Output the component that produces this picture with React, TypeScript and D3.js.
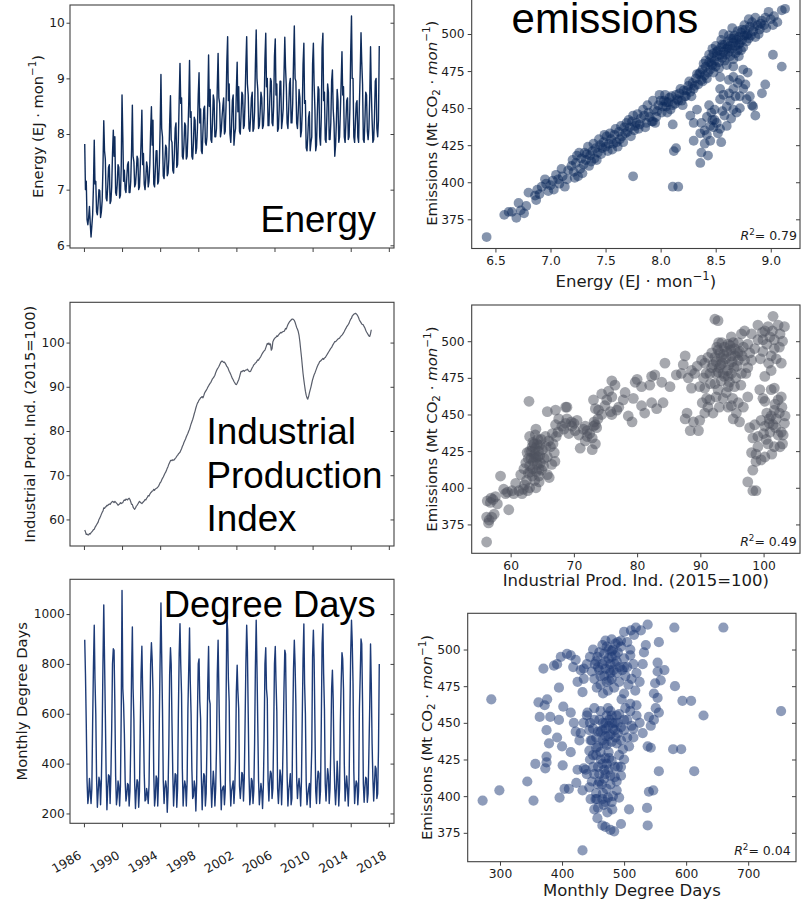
import { useRef, useEffect } from "react";
import * as d3 from "d3";

// monthly series, first value is Jan 1986 (plotted at month end)
const firstYear = 1986;

// EJ per month, Jan 1986 - Dec 2016
const energy = [
  7.82, 7.0, 7.15, 6.46, 6.37, 6.5, 6.7, 6.39, 6.15, 6.35, 6.55, 7.05,
  7.89, 7.1, 7.15, 6.6, 6.55, 6.75, 7.0, 6.98, 6.5, 6.6, 6.8, 7.4,
  8.24, 7.7, 7.55, 6.85, 6.8, 7.05, 7.4, 7.45, 6.75, 6.8, 7.05, 7.65,
  8.07, 7.6, 7.95, 6.95, 6.9, 7.1, 7.45, 7.4, 6.85, 6.9, 7.4, 8.7,
  7.95, 7.15, 7.35, 7.0, 6.95, 7.2, 7.45, 7.5, 6.95, 6.95, 7.15, 7.7,
  8.52, 7.6, 7.5, 7.05, 7.1, 7.3, 7.6, 7.55, 7.0, 7.05, 7.4, 7.85,
  8.43, 7.45, 7.65, 7.1, 7.0, 7.2, 7.5, 7.4, 7.05, 7.15, 7.45, 8.05,
  8.49, 7.8, 8.25, 7.1, 7.05, 7.35, 7.7, 7.7, 7.1, 7.15, 7.45, 8.1,
  9.07, 8.1, 7.95, 7.25, 7.2, 7.5, 7.8, 7.75, 7.25, 7.3, 7.55, 8.2,
  8.69, 7.9, 7.85, 7.35, 7.3, 7.65, 8.1, 8.2, 7.4, 7.45, 7.9, 8.6,
  9.27, 8.55, 8.65, 7.6, 7.55, 7.8, 8.2, 8.15, 7.55, 7.6, 8.0, 8.55,
  9.32, 8.3, 8.4, 7.6, 7.55, 7.85, 8.3, 8.25, 7.65, 7.75, 8.1, 8.7,
  9.1, 8.2, 8.45, 7.7, 7.65, 8.05, 8.45, 8.5, 7.85, 7.8, 7.95, 8.55,
  9.42, 8.5, 8.8, 7.9, 7.85, 8.2, 8.7, 8.6, 7.95, 7.95, 8.1, 8.85,
  9.45, 8.65, 8.55, 7.95, 8.05, 8.3, 8.5, 8.65, 8.0, 8.05, 8.5, 9.3,
  9.75, 8.6, 8.9, 8.0, 7.85, 8.15, 8.6, 8.7, 7.8, 8.0, 8.1, 8.8,
  9.29, 8.4, 8.85, 8.05, 8.0, 8.35, 8.75, 8.7, 8.1, 8.15, 8.6, 9.25,
  9.75, 8.9, 8.7, 8.1, 8.05, 8.3, 8.65, 8.75, 8.05, 8.1, 8.4, 9.25,
  9.87, 9.0, 8.8, 8.1, 8.15, 8.4, 8.75, 8.65, 8.1, 8.15, 8.45, 9.35,
  9.81, 8.85, 9.0, 8.15, 8.15, 8.55, 9.0, 8.95, 8.2, 8.15, 8.5, 9.4,
  9.71, 8.7, 8.9, 8.05, 8.1, 8.45, 8.95, 8.95, 8.1, 8.25, 8.45, 9.05,
  9.74, 9.2, 8.85, 8.2, 8.1, 8.45, 8.9, 9.0, 8.2, 8.2, 8.55, 9.3,
  9.94, 9.0, 8.95, 8.2, 8.1, 8.4, 8.8, 8.65, 7.95, 8.05, 8.4, 9.25,
  9.63, 8.55, 8.6, 7.75, 7.7, 7.95, 8.3, 8.4, 7.7, 7.85, 7.95, 9.25,
  9.63, 8.9, 8.45, 7.7, 7.8, 8.35, 8.85, 8.8, 7.95, 7.8, 8.3, 9.55,
  9.81, 8.6, 8.75, 7.9, 7.85, 8.3, 8.9, 8.75, 7.9, 7.9, 8.2, 8.95,
  9.15, 8.45, 8.2, 7.6, 7.8, 8.2, 8.8, 8.6, 7.85, 7.95, 8.4, 8.95,
  9.48, 8.7, 8.85, 7.95, 7.85, 8.2, 8.6, 8.65, 7.9, 7.95, 8.45, 9.45,
  10.12, 9.0, 9.0, 7.95, 7.85, 8.2, 8.55, 8.6, 7.95, 7.85, 8.55, 9.1,
  9.82, 9.3, 8.9, 7.9, 7.85, 8.25, 8.75, 8.7, 8.05, 7.9, 8.1, 8.65,
  9.57, 8.8, 8.25, 7.85, 7.9, 8.3, 8.95, 9.0, 8.1, 7.95, 8.25, 9.58,
];

// industrial production index (2015=100), Jan 1986 - Feb 2016
const industrialProduction = [
  57.6, 57.2, 56.6, 56.7, 56.5, 56.5, 56.8, 56.7, 57.0, 57.2, 57.4, 57.7,
  57.8, 58.2, 58.5, 58.8, 59.1, 59.4, 60.0, 60.3, 60.7, 61.2, 61.6, 61.9,
  62.6, 62.5, 62.8, 62.9, 63.2, 63.1, 63.4, 63.5, 63.4, 63.7, 63.9, 64.1,
  64.0, 63.8, 64.1, 63.9, 63.7, 63.5, 63.2, 63.4, 63.5, 63.8, 63.6, 63.7,
  63.8, 64.2, 64.4, 64.3, 64.6, 64.5, 64.4, 64.7, 64.8, 64.5, 64.0, 63.4,
  63.4, 62.8, 62.5, 62.3, 62.6, 63.0, 63.2, 63.5, 63.8, 64.1, 63.9, 63.7,
  63.6, 63.8, 64.0, 64.2, 64.5, 64.4, 64.8, 65.0, 65.4, 65.3, 65.7, 66.0,
  66.2, 66.4, 66.5, 66.8, 66.6, 66.9, 67.0, 67.1, 67.3, 67.5, 67.9, 68.3,
  68.5, 68.9, 69.3, 69.6, 70.0, 70.4, 70.7, 71.1, 71.6, 72.0, 72.5, 72.9,
  73.3, 73.4, 73.3, 73.5, 73.4, 73.5, 73.8, 74.0, 74.3, 74.5, 74.8, 75.0,
  75.2, 75.6, 76.0, 76.5, 76.9, 77.4, 77.8, 78.2, 78.7, 79.1, 79.5, 80.0,
  80.4, 81.0, 81.6, 82.1, 82.6, 83.2, 83.9, 84.5, 85.2, 85.8, 86.3, 86.6,
  87.0, 87.2, 87.5, 87.6, 87.8, 87.5, 88.0, 88.6, 88.9, 89.2, 89.5, 89.9,
  90.2, 90.5, 90.8, 91.0, 91.4, 91.8, 92.0, 92.3, 92.6, 93.2, 93.6, 94.0,
  94.3, 94.6, 95.0, 95.4, 95.7, 95.8, 95.7, 95.5, 95.6, 95.3, 95.0, 94.6,
  94.4, 94.0, 93.5, 93.2, 92.8, 92.3, 91.9, 91.6, 91.2, 90.9, 90.6, 90.5,
  90.8, 91.2, 91.6, 92.2, 92.9, 93.5, 93.4, 93.6, 93.7, 93.5, 93.7, 93.8,
  93.8, 94.0, 93.7, 93.5, 93.4, 93.5, 93.9, 94.3, 94.6, 95.0, 95.1, 95.4,
  95.5, 95.8, 96.1, 96.0, 96.4, 96.6, 96.9, 97.3, 97.6, 97.9, 98.1, 98.3,
  98.8, 99.3, 99.8, 99.6, 99.9, 99.5, 99.7, 98.3, 98.6, 100.2, 100.6, 100.9,
  101.1, 101.2, 101.5, 101.4, 101.7, 101.9, 102.1, 102.3, 102.2, 102.4, 102.5, 102.5,
  102.8, 103.2, 103.1, 103.6, 104.1, 104.4, 104.7, 104.9, 105.1, 105.3, 105.3, 105.2,
  105.0, 104.6, 104.0, 103.4, 103.0, 102.5, 101.6, 100.2, 98.5, 96.8, 94.9, 93.0,
  91.5, 90.3, 89.0, 88.1, 87.5, 87.2, 87.8, 88.6, 89.3, 90.0, 90.8, 91.6,
  92.2, 92.7, 93.1, 93.6, 94.1, 94.6, 95.0, 95.3, 95.7, 95.8, 96.0, 96.2,
  96.4, 96.2, 96.5, 96.6, 96.9, 97.2, 97.5, 97.8, 98.1, 98.4, 98.7, 98.9,
  99.3, 99.6, 99.9, 100.2, 100.2, 100.4, 100.6, 100.8, 100.9, 101.0, 101.3, 101.5,
  101.7, 101.9, 102.2, 102.5, 102.9, 103.2, 103.6, 103.8, 104.1, 104.4, 104.9, 105.3,
  105.5, 106.0, 106.2, 106.4, 106.5, 106.6, 106.5, 106.3, 106.0, 105.6, 105.1, 104.8,
  104.5, 104.2, 104.1, 104.0, 103.6, 103.3, 102.8, 102.4, 102.1, 101.8, 101.5, 101.4,
  102.0, 102.9,
];

// monthly degree days, Jan 1986 - Dec 2016
const degreeDays = [
  897, 760, 560, 330, 240, 270, 340, 290, 240, 300, 560, 790,
  955, 740, 600, 340, 225, 285, 345, 330, 235, 330, 520, 800,
  1037, 820, 600, 360, 215, 300, 355, 350, 240, 360, 540, 800,
  861, 855, 640, 350, 235, 265, 330, 310, 230, 310, 600, 1095,
  700, 640, 520, 330, 250, 275, 320, 315, 230, 290, 480, 760,
  948, 700, 580, 320, 220, 290, 335, 325, 225, 290, 540, 760,
  871, 700, 560, 360, 250, 255, 300, 280, 240, 315, 560, 800,
  885, 820, 700, 360, 230, 265, 350, 340, 230, 330, 580, 820,
  1045, 840, 620, 330, 240, 300, 330, 305, 205, 290, 480, 760,
  865, 800, 560, 360, 230, 300, 360, 355, 225, 300, 600, 840,
  961, 800, 680, 380, 230, 295, 330, 310, 230, 330, 620, 780,
  944, 730, 600, 380, 260, 270, 330, 305, 210, 320, 600, 800,
  820, 650, 580, 340, 215, 305, 360, 350, 230, 280, 480, 720,
  870, 660, 640, 320, 225, 300, 370, 320, 230, 300, 460, 760,
  895, 700, 500, 340, 215, 290, 305, 310, 235, 290, 620, 990,
  940, 740, 650, 330, 230, 290, 310, 330, 240, 300, 420, 690,
  795, 690, 620, 310, 260, 305, 365, 355, 250, 340, 560, 800,
  955, 850, 600, 350, 235, 270, 340, 330, 240, 290, 480, 790,
  975, 790, 560, 330, 235, 280, 320, 290, 220, 310, 500, 800,
  865, 700, 660, 330, 250, 330, 370, 360, 260, 300, 520, 800,
  870, 730, 610, 300, 240, 300, 375, 350, 235, 330, 500, 700,
  855, 840, 600, 350, 230, 290, 320, 360, 235, 260, 540, 780,
  895, 800, 640, 340, 260, 310, 340, 300, 230, 330, 580, 820,
  960, 720, 600, 330, 235, 270, 300, 320, 225, 340, 460, 830,
  935, 820, 560, 290, 240, 330, 370, 360, 240, 290, 560, 880,
  960, 760, 620, 320, 250, 320, 380, 350, 240, 300, 470, 700,
  775, 660, 420, 300, 235, 300, 410, 340, 230, 300, 560, 720,
  845, 820, 700, 400, 250, 300, 350, 300, 230, 320, 590, 840,
  975, 890, 720, 370, 240, 300, 330, 320, 235, 290, 620, 750,
  900, 880, 650, 320, 245, 305, 345, 340, 245, 280, 450, 630,
  880, 720, 480, 340, 250, 320, 390, 380, 260, 280, 450, 800,
];

// [energy EJ/mon, emissions Mt CO2/mon]
const energyVsEmissions: [number, number][] = [
  [6.42, 363], [6.58, 378], [6.65, 380], [6.69, 376], [6.71, 386], [6.73, 381], [6.76, 379], [6.8, 393],
  [6.86, 391], [6.88, 395], [6.87, 388], [6.92, 397], [6.96, 399], [6.98, 394], [7.0, 398], [7.02, 401],
  [7.05, 405], [7.08, 399], [7.11, 404], [7.13, 397], [7.16, 408], [7.19, 411], [7.21, 407], [7.23, 413],
  [7.24, 418], [7.25, 404], [7.27, 409], [7.28, 416], [7.3, 412], [7.32, 415], [7.33, 419], [7.35, 411],
  [7.36, 418], [7.38, 421], [7.4, 416], [7.41, 423], [7.43, 420], [7.45, 425], [7.46, 419], [7.48, 427],
  [7.5, 424], [7.51, 431], [7.53, 426], [7.55, 429], [7.56, 422], [7.58, 432], [7.6, 427], [7.62, 434],
  [7.63, 429], [7.65, 431], [7.67, 437], [7.69, 440], [7.7, 434], [7.72, 437], [7.74, 441], [7.76, 435],
  [7.78, 440], [7.8, 436], [7.82, 443], [7.85, 445], [7.87, 440], [7.89, 447], [7.92, 441], [7.94, 449],
  [7.96, 444], [7.98, 452], [7.99, 459], [8.01, 447], [8.03, 455], [8.05, 451], [8.07, 454], [8.09, 449],
  [8.1, 458], [8.13, 453], [8.15, 456], [8.17, 460], [8.19, 455], [8.21, 462], [8.23, 458], [8.25, 465],
  [8.27, 461], [8.29, 467], [8.3, 463], [8.32, 470], [8.34, 466], [8.35, 473], [8.37, 469], [8.38, 476],
  [8.4, 472], [8.41, 478], [8.43, 474], [8.44, 481], [8.45, 476], [8.46, 484], [8.47, 479], [8.48, 487],
  [8.49, 482], [8.5, 478], [8.51, 485], [8.52, 489], [8.53, 481], [8.54, 486], [8.55, 491], [8.56, 484],
  [8.57, 488], [8.58, 493], [8.59, 486], [8.6, 490], [8.61, 495], [8.62, 488], [8.63, 492], [8.64, 497],
  [8.65, 490], [8.66, 494], [8.67, 499], [8.68, 492], [8.69, 496], [8.7, 489], [8.71, 498], [8.72, 494],
  [8.73, 501], [8.74, 496], [8.75, 491], [8.76, 499], [8.77, 503], [8.78, 495], [8.79, 500], [8.8, 497],
  [8.81, 505], [8.82, 499], [8.84, 502], [8.86, 498], [8.88, 506], [8.9, 503], [8.92, 509], [8.94, 506],
  [8.96, 504], [8.98, 515], [9.0, 510], [9.03, 512], [9.06, 508], [9.1, 516], [9.13, 517],
  [8.42, 470], [8.48, 474], [8.53, 477], [8.58, 482], [8.63, 485], [8.68, 487], [8.73, 489], [8.5, 492],
  [8.55, 496], [8.62, 499], [8.7, 502], [8.76, 506], [8.83, 508], [8.6, 479], [8.66, 483], [8.71, 485],
  [8.36, 474], [8.39, 480], [8.44, 486], [8.47, 490], [8.57, 500], [8.65, 504], [8.8, 510], [8.86, 511],
  [6.62, 380], [6.78, 384], [6.9, 392], [6.95, 402], [7.03, 395], [7.07, 402], [7.1, 409], [7.15, 402],
  [7.2, 415], [7.22, 403], [7.26, 420], [7.29, 406], [7.31, 420], [7.34, 424], [7.37, 414], [7.39, 426],
  [7.42, 415], [7.44, 429], [7.47, 423], [7.49, 432], [7.52, 421], [7.54, 433], [7.57, 426], [7.59, 436],
  [7.61, 424], [7.64, 438], [7.66, 427], [7.68, 433], [7.71, 442], [7.73, 431], [7.75, 445], [7.77, 438],
  [7.79, 446], [7.81, 439], [7.84, 449], [7.86, 437], [7.88, 452], [7.9, 444], [7.93, 455], [7.95, 440],
  [7.97, 448], [8.0, 455], [8.02, 451], [8.04, 459], [8.06, 447], [8.08, 457], [8.11, 452], [8.14, 459],
  [8.18, 463], [8.2, 452], [8.24, 462], [8.26, 468], [8.28, 458], [8.31, 465], [8.33, 473], [8.38, 468],
  [8.41, 482], [8.46, 480], [8.51, 488], [8.56, 493], [8.61, 491], [8.66, 497], [8.71, 493], [8.74, 503],
  [8.78, 499], [8.85, 505], [8.89, 500], [8.91, 507], [8.95, 511], [9.02, 506],
  [7.75, 404], [8.12, 421], [8.14, 423], [8.11, 397], [8.16, 397], [8.11, 439], [8.36, 413], [8.37, 420],
  [8.43, 418], [8.4, 426], [8.45, 428], [8.36, 433], [8.37, 440], [8.42, 444], [8.46, 447], [8.49, 442],
  [8.54, 436], [8.55, 427], [8.49, 449], [8.54, 456], [8.6, 451], [8.66, 449], [8.69, 447], [8.72, 450],
  [8.78, 456], [8.81, 458], [8.84, 451], [8.86, 445], [8.92, 460], [8.95, 466], [9.02, 486], [9.1, 478],
  [8.54, 463], [8.62, 469], [8.66, 463], [8.72, 469], [8.75, 476], [8.79, 474], [8.62, 460], [8.72, 458],
  [8.75, 463], [8.66, 478], [8.66, 471], [8.54, 471], [8.42, 432], [8.3, 440], [8.3, 428], [8.33, 449],
  [8.27, 445], [8.22, 458], [8.16, 455], [8.05, 454], [7.93, 441], [8.45, 438], [8.47, 442], [8.51, 440],
  [8.44, 452], [8.58, 445], [8.63, 455], [8.68, 458], [8.7, 467], [8.77, 466], [8.83, 452], [8.48, 437],
  [8.52, 433], [8.4, 435], [8.56, 448], [8.6, 438], [8.64, 443], [8.57, 459],
];

// [industrial production index, emissions]
const ipiVsEmissions: [number, number][] = [
  [56.2, 363], [56.2, 380], [56.5, 376], [56.6, 378], [56.3, 391], [56.9, 393], [57.6, 394], [57.4, 382],
  [57.9, 389], [58.4, 408], [58.9, 399], [59.2, 396], [59.7, 385], [60.5, 396], [60.8, 403], [61.3, 398],
  [61.6, 409], [62.1, 413], [62.4, 417], [62.6, 424], [63.0, 435], [62.9, 459], [63.4, 428], [63.7, 421],
  [63.1, 411], [64.0, 440], [64.2, 430], [64.5, 408], [64.7, 417], [65.0, 426], [64.0, 400], [64.5, 404],
  [65.5, 435], [65.8, 421], [65.8, 452], [65.8, 409], [66.6, 437], [67.1, 443], [67.1, 453], [67.6, 447],
  [68.7, 455], [68.1, 442], [68.7, 444], [68.9, 447], [68.9, 455], [69.7, 442], [69.6, 445],
  [62.5, 405], [62.8, 410], [63.0, 415], [63.2, 420], [63.4, 408], [63.5, 413], [63.6, 418], [63.8, 423],
  [63.9, 427], [64.1, 411], [64.2, 416], [64.3, 421], [64.4, 425], [64.6, 429], [63.3, 425], [63.7, 430],
  [64.8, 433], [62.7, 398], [63.0, 400], [62.2, 402], [61.8, 396], [64.9, 412], [65.3, 420], [65.6, 428],
  [66.0, 432], [66.3, 428], [66.7, 430], [66.9, 424], [67.2, 435], [67.5, 438], [66.5, 416], [67.0, 418],
  [62.0, 399], [60.2, 398], [59.5, 397], [57.0, 380], [57.2, 392], [56.8, 390], [66.1, 407], [68.4, 440],
  [63.0, 425], [63.5, 431], [64.0, 420], [64.5, 413], [63.8, 405], [64.3, 433], [62.8, 420], [63.9, 436],
  [64.6, 422], [65.2, 415],
  [69.2, 437], [70.0, 444], [70.2, 439], [70.8, 436], [71.0, 427], [71.8, 432], [72.9, 434], [71.8, 442],
  [72.1, 435], [73.4, 430], [72.1, 439], [72.9, 426], [73.1, 442], [73.4, 443], [73.6, 441], [73.2, 445],
  [73.1, 460], [73.4, 454], [74.4, 464], [73.9, 453], [74.4, 450], [76.0, 473], [75.2, 460], [76.0, 462],
  [76.0, 450], [75.8, 452], [76.8, 453], [76.5, 470], [78.1, 465], [77.8, 460], [78.6, 449], [79.2, 445],
  [77.1, 455], [79.4, 461], [79.7, 472], [80.7, 469], [80.7, 456], [81.2, 451], [82.0, 470], [82.3, 476],
  [82.3, 458], [83.1, 454], [83.9, 472], [84.1, 458], [85.2, 469], [86.2, 477], [70.5, 446], [71.5, 440],
  [74.9, 456], [75.5, 466], [73.8, 447], [72.5, 437], [80.0, 474],
  [82.8, 477], [84.4, 485], [87.0, 478], [87.3, 484], [87.6, 490], [88.1, 475], [88.6, 480], [88.6, 468],
  [89.1, 478], [89.9, 469], [90.7, 468], [91.0, 461], [92.3, 471], [92.8, 479], [93.3, 473], [92.8, 467],
  [93.6, 461], [94.4, 469], [93.6, 478], [94.4, 476], [94.9, 478], [95.4, 469], [96.0, 458], [94.9, 456],
  [94.4, 455], [92.3, 489], [92.8, 494], [93.3, 489], [93.8, 496], [94.4, 498], [94.9, 503], [95.4, 495],
  [96.0, 499], [96.5, 505], [94.9, 490], [96.2, 493], [97.0, 487], [97.5, 482], [91.8, 482], [90.7, 485],
  [90.2, 487], [91.2, 489], [92.3, 515], [92.8, 514], [97.0, 507], [98.1, 505], [97.5, 498], [98.6, 495],
  [99.1, 501], [99.9, 501], [100.2, 507], [100.7, 510], [102.3, 511], [103.3, 510], [101.5, 517], [99.1, 511],
  [101.0, 503], [101.7, 501], [101.7, 495], [101.2, 490], [102.0, 488], [101.2, 480], [100.2, 476], [99.9, 493],
  [98.1, 487], [91.5, 478], [92.0, 484], [92.5, 486], [93.0, 482], [93.5, 485], [94.0, 488], [94.5, 484],
  [95.0, 486], [95.5, 490], [96.0, 487], [91.8, 492], [92.6, 496], [93.4, 499], [94.2, 493], [95.2, 499],
  [95.8, 483], [96.5, 478], [93.8, 476], [94.6, 472], [95.6, 475], [90.5, 475], [89.5, 483], [93.1, 492],
  [94.8, 494], [96.8, 496], [97.8, 492], [100.5, 498], [102.5, 496], [103.0, 500], [102.8, 485], [99.5, 488],
  [100.8, 485], [92.5, 478], [93.2, 484], [94.3, 480], [95.3, 482], [95.9, 492], [96.6, 490], [93.7, 491],
  [94.7, 497], [92.9, 499], [97.2, 478], [91.6, 471], [90.9, 478], [94.1, 465], [95.1, 461], [96.4, 470],
  [99.8, 506], [101.4, 507], [102.6, 505],
  [87.9, 451], [87.6, 447], [88.4, 439], [88.9, 445], [89.9, 446], [90.7, 451], [91.2, 455], [91.5, 460],
  [89.7, 439], [92.0, 451], [95.2, 447], [95.7, 451], [96.2, 445], [90.3, 458], [92.5, 462], [93.0, 455],
  [96.8, 455], [97.5, 462],
  [99.4, 467], [100.2, 459], [101.2, 467], [102.3, 460], [101.7, 468], [100.5, 451], [101.2, 449], [101.7, 453],
  [102.5, 451], [103.3, 444], [102.8, 438], [100.9, 444], [100.2, 442], [99.6, 446], [99.1, 435], [98.3, 434],
  [98.1, 424], [98.8, 423], [100.2, 421], [100.7, 430], [101.7, 428], [102.3, 436], [97.5, 404], [98.3, 398],
  [98.8, 398], [98.3, 412], [98.8, 418], [99.6, 419], [99.1, 428], [102.8, 462], [103.1, 436], [101.0, 438],
  [101.5, 443], [102.0, 447], [100.0, 437], [101.8, 457], [103.4, 449], [102.6, 428], [97.8, 441], [98.6, 443],
  [100.9, 447], [101.9, 441], [102.9, 455], [100.4, 433], [101.3, 423], [103.0, 430], [99.9, 461],
];

// [monthly degree days, emissions]
const degreeDaysVsEmissions: [number, number][] = [
  [272, 397], [286, 466], [299, 404], [344, 410], [354, 397], [357, 422], [362, 464], [364, 454],
  [370, 487], [372, 462], [376, 466], [375, 445], [375, 427], [375, 423], [373, 419], [379, 436],
  [381, 454], [387, 489], [392, 490], [395, 474], [396, 399], [392, 440], [395, 452], [402, 461],
  [401, 421], [404, 405], [400, 434], [398, 495], [408, 497], [414, 496], [418, 488], [422, 493],
  [414, 457], [419, 450], [422, 444], [414, 430], [425, 418], [423, 409], [411, 405], [433, 404],
  [433, 363], [435, 487], [435, 480], [433, 471], [435, 419], [438, 418], [441, 457], [444, 445],
  [446, 438], [444, 431], [446, 398], [452, 391], [454, 398], [457, 385], [465, 380], [470, 379],
  [478, 377], [484, 376], [495, 381], [467, 394], [481, 391], [473, 389], [492, 399], [508, 391],
  [537, 392], [538, 380], [540, 403], [547, 404], [556, 417], [579, 432], [592, 432], [613, 417],
  [628, 455], [608, 465], [594, 465], [582, 475], [581, 515], [660, 515], [753, 458], [554, 485],
  [556, 505], [554, 491], [565, 486], [550, 477], [559, 479], [554, 467], [548, 470], [556, 457],
  [551, 460], [540, 454], [543, 448], [538, 434], [543, 433], [548, 452], [532, 498], [535, 503],
  [538, 517], [527, 513], [519, 515], [516, 510], [511, 513], [500, 512], [495, 506],
  [445, 495], [450, 500], [455, 492], [460, 498], [465, 503], [470, 506], [475, 500], [480, 495],
  [485, 490], [490, 498], [495, 502], [500, 494], [505, 488], [510, 496], [515, 490], [520, 484],
  [448, 485], [452, 480], [458, 488], [462, 476], [468, 482], [472, 478], [476, 486], [480, 480],
  [484, 474], [488, 484], [492, 478], [497, 486], [502, 482], [507, 476], [512, 480], [518, 472],
  [466, 470], [474, 472], [470, 492], [478, 490], [482, 500], [486, 504], [460, 486], [456, 474],
  [500, 470], [525, 478], [530, 490], [505, 505], [440, 490], [430, 486], [425, 478],
  [465, 490], [470, 487], [475, 494], [480, 499], [468, 497], [472, 502], [478, 484], [462, 482],
  [483, 486], [488, 492], [493, 488], [457, 495], [476, 479], [486, 496], [500, 488], [510, 500],
  [453, 490], [490, 505], [480, 507],
  [440, 455], [445, 450], [450, 446], [455, 440], [460, 452], [465, 445], [470, 441], [475, 448],
  [480, 455], [485, 450], [490, 443], [495, 447], [500, 452], [505, 440], [510, 458], [515, 446],
  [520, 455], [525, 450], [448, 438], [458, 434], [468, 436], [478, 442], [488, 436], [498, 432],
  [508, 434], [462, 458], [472, 455], [482, 446], [492, 456], [502, 460], [512, 448], [530, 443],
  [452, 460], [470, 450], [486, 440], [455, 433], [435, 450], [430, 443], [428, 438], [520, 462],
  [496, 466], [474, 460], [470, 446], [475, 441], [480, 437], [485, 445], [476, 452], [466, 450],
  [481, 450], [490, 450], [495, 438], [465, 438], [458, 444], [500, 445], [505, 452], [472, 435],
  [488, 455], [478, 458], [462, 444], [515, 440], [452, 452], [510, 463],
  [445, 425], [450, 420], [455, 428], [460, 415], [465, 422], [470, 426], [475, 418], [480, 424],
  [485, 413], [490, 420], [448, 410], [458, 408], [468, 412], [478, 408], [488, 410], [455, 402],
  [465, 398], [472, 405], [482, 400], [462, 430], [475, 430], [492, 428], [440, 415], [500, 425],
  [458, 392], [470, 396], [444, 406], [495, 414], [458, 420], [462, 425], [468, 418], [472, 422],
  [478, 414], [464, 408], [452, 415], [485, 420], [460, 410], [470, 415], [476, 426], [450, 428],
  [488, 404], [466, 402], [480, 396], [474, 399], [495, 420], [456, 398],
];

const yearTicks = [1986, 1990, 1994, 1998, 2002, 2006, 2010, 2014, 2018];
const energyTicks = [6, 7, 8, 9, 10];
const ipiTicks = [60, 70, 80, 90, 100];
const degreeDayTicks = [200, 400, 600, 800, 1000];
const emissionTicks = [375, 400, 425, 450, 475, 500];
const energyXTicks = [6.5, 7, 7.5, 8, 8.5, 9];
const ipiXTicks = [60, 70, 80, 90, 100];
const degreeDayXTicks = [300, 400, 500, 600, 700];
const rSquared = ["0.79", "0.49", "0.04"];

type Seg = { t: string; italic?: boolean; shift?: "sup" | "sub" };

const energyLabel: Seg[] = [{ t: "Energy (EJ · mon" }, { t: "−1", shift: "sup" }, { t: ")" }];
const emissionsLabel: Seg[] = [
  { t: "Emissions (Mt CO" },
  { t: "2", shift: "sub" },
  { t: " · " },
  { t: "mon", italic: true },
  { t: "−1", shift: "sup" },
  { t: ")" },
];
const ipiLabel: Seg[] = [{ t: "Industrial Prod. Ind. (2015=100)" }];
const degreeDayLabel: Seg[] = [{ t: "Monthly Degree Days" }];

const FONT = "DejaVu Sans, sans-serif";
const BIG = "Liberation Sans, Arial, sans-serif";
const INK = "#1b1b1b";
const EDGE = "#404040";

function padded(vals: number[]): [number, number] {
  const [lo, hi] = d3.extent(vals) as [number, number];
  const p = (hi - lo) * 0.05;
  return [lo - p, hi + p];
}

function rich(text: d3.Selection<SVGTextElement, unknown, null, undefined>, segs: Seg[], size: number) {
  let cur = 0;
  segs.forEach((s) => {
    const target = s.shift === "sup" ? -0.42 * size : s.shift === "sub" ? 0.22 * size : 0;
    text
      .append("tspan")
      .attr("dy", target - cur)
      .attr("font-size", s.shift ? size * 0.7 : size)
      .attr("font-style", s.italic ? "italic" : null)
      .text(s.t);
    cur = target;
  });
}

function App() {
  const svgRef = useRef<SVGSVGElement | null>(null);
  const width = 802;
  const height = 903;

  useEffect(() => {
    if (!svgRef.current) return;
    const svg = d3.select(svgRef.current);
    svg.selectAll("*").remove();

    const styleAxis = (a: d3.Selection<SVGGElement, unknown, null, undefined>, size: number) => {
      a.select(".domain").remove();
      a.selectAll("line").attr("stroke", EDGE).attr("stroke-width", 1);
      a.selectAll("text").attr("fill", INK).attr("font-size", size).attr("font-family", FONT);
    };

    const frame = (x0: number, x1: number, y0: number, y1: number) =>
      svg
        .append("rect")
        .attr("x", x0)
        .attr("y", y0)
        .attr("width", x1 - x0)
        .attr("height", y1 - y0)
        .attr("fill", "none")
        .attr("stroke", EDGE)
        .attr("stroke-width", 1.1);

    const yLabel = (segs: Seg[], bx: number, cy: number, size: number) => {
      const t = svg
        .append("text")
        .attr("transform", `translate(${bx},${cy}) rotate(-90)`)
        .attr("text-anchor", "middle")
        .attr("font-family", FONT)
        .attr("fill", INK);
      rich(t, segs, size);
    };

    // ---- left column: time series ----
    const dateOf = (i: number) => new Date(firstYear, i + 1, 0);
    const allDates = energy.map((_, i) => dateOf(i));
    const [t0, t1] = d3.extent(allDates) as [Date, Date];
    const tPad = (+t1 - +t0) * 0.05;
    const x = d3
      .scaleTime()
      .domain([new Date(+t0 - tPad), new Date(+t1 + tPad)])
      .range([70, 394]);
    const yearDates = yearTicks.map((yr) => new Date(yr, 0, 1));

    const leftPanels = [
      { values: energy, y0: 5, y1: 248, ticks: energyTicks, color: "#0f2c5b", lw: 1.4, label: energyLabel, labelX: 42.5 },
      { values: industrialProduction, y0: 302.3, y1: 546, ticks: ipiTicks, color: "#585d6a", lw: 1.2, label: ipiLabel, labelX: 35 },
      { values: degreeDays, y0: 579.3, y1: 823.3, ticks: degreeDayTicks, color: "#1d3b78", lw: 1.4, label: degreeDayLabel, labelX: 26.5 },
    ];

    leftPanels.forEach((p, k) => {
      const y = d3.scaleLinear().domain(padded(p.values)).range([p.y1, p.y0]);
      const pts = p.values.map((v, i) => [dateOf(i), v] as [Date, number]);
      const lineFunc = d3
        .line<[Date, number]>()
        .x((d) => x(d[0]))
        .y((d) => y(d[1]));

      svg
        .append("path")
        .attr("fill", "none")
        .attr("stroke", p.color)
        .attr("stroke-width", p.lw)
        .attr("stroke-linejoin", "round")
        .attr("d", lineFunc(pts));

      frame(70, 394, p.y0, p.y1);

      svg
        .append("g")
        .attr("transform", `translate(70,0)`)
        .call(d3.axisLeft(y).tickValues(p.ticks).tickSize(3.5).tickPadding(1.8).tickFormat(d3.format("d")))
        .call((a) => styleAxis(a, 12.2));
      svg
        .append("g")
        .attr("transform", `translate(394,0)`)
        .call(d3.axisRight(y).tickValues(p.ticks).tickSize(-3.5).tickFormat(() => ""))
        .call((a) => styleAxis(a, 12.2));

      const bottom = svg
        .append("g")
        .attr("transform", `translate(0,${p.y1})`)
        .call(
          d3
            .axisBottom<Date>(x)
            .tickValues(yearDates)
            .tickSize(4)
            .tickFormat((d) => (k === 2 ? d3.timeFormat("%Y")(d) : ""))
        )
        .call((a) => styleAxis(a, 12.4));

      if (k === 2) {
        bottom
          .selectAll("text")
          .attr("x", null)
          .attr("y", null)
          .attr("dy", null)
          .attr("text-anchor", "end")
          .attr("transform", "translate(-2,34.5) rotate(-30)");
      }

      yLabel(p.label, p.labelX, (p.y0 + p.y1) / 2, 14.7);
    });

    // ---- right column: scatter against emissions ----
    const rightPanels = [
      { pts: energyVsEmissions, x0: 471.7, x1: 800, y0: -2.6, y1: 248.5, xTicks: energyXTicks, fmt: d3.format(".1f"), color: "#0b2a5c", r: 4.9, xLabel: energyLabel, xLabelY: 287, yLabelX: 436.5, r2X: 797, r2Y: 240 },
      { pts: ipiVsEmissions, x0: 471.7, x1: 800, y0: 305, y1: 553.3, xTicks: ipiXTicks, fmt: d3.format("d"), color: "#4e525d", r: 5.4, xLabel: ipiLabel, xLabelY: 586, yLabelX: 437, r2X: 796.7, r2Y: 546 },
      { pts: degreeDaysVsEmissions, x0: 467.7, x1: 796, y0: 613.3, y1: 861.7, xTicks: degreeDayXTicks, fmt: d3.format("d"), color: "#1d3a76", r: 5.1, xLabel: degreeDayLabel, xLabelY: 896, yLabelX: 432, r2X: 790.7, r2Y: 855 },
    ];

    rightPanels.forEach((p, k) => {
      const sx = d3.scaleLinear().domain(padded(p.pts.map((d) => d[0]))).range([p.x0, p.x1]);
      const sy = d3.scaleLinear().domain(padded(p.pts.map((d) => d[1]))).range([p.y1, p.y0]);

      svg
        .append("g")
        .selectAll("circle")
        .data(p.pts)
        .join("circle")
        .attr("cx", (d) => sx(d[0]))
        .attr("cy", (d) => sy(d[1]))
        .attr("r", p.r)
        .attr("fill", p.color)
        .attr("fill-opacity", 0.5);

      frame(p.x0, p.x1, p.y0, p.y1);

      svg
        .append("g")
        .attr("transform", `translate(${p.x0},0)`)
        .call(d3.axisLeft(sy).tickValues(emissionTicks).tickSize(4).tickPadding(3).tickFormat(d3.format("d")))
        .call((a) => styleAxis(a, 12.3));
      svg
        .append("g")
        .attr("transform", `translate(${p.x1},0)`)
        .call(d3.axisRight(sy).tickValues(emissionTicks).tickSize(-4).tickFormat(() => ""))
        .call((a) => styleAxis(a, 12.3));
      svg
        .append("g")
        .attr("transform", `translate(0,${p.y1})`)
        .call(d3.axisBottom(sx).tickValues(p.xTicks).tickSize(4).tickPadding(3.6).tickFormat((d) => p.fmt(d as number)))
        .call((a) => styleAxis(a, 12.3));

      const xl = svg
        .append("text")
        .attr("x", (p.x0 + p.x1) / 2)
        .attr("y", p.xLabelY)
        .attr("text-anchor", "middle")
        .attr("font-family", FONT)
        .attr("fill", INK);
      rich(xl, p.xLabel, 16.5);

      yLabel(emissionsLabel, p.yLabelX, (Math.max(p.y0, 0) + p.y1) / 2 - (p.y0 < 0 ? 1 : 0), 14.9);

      const r2 = svg
        .append("text")
        .attr("x", p.r2X)
        .attr("y", p.r2Y)
        .attr("text-anchor", "end")
        .attr("font-family", FONT)
        .attr("fill", INK);
      rich(r2, [{ t: "R", italic: true }, { t: "2", shift: "sup" }, { t: "= " + rSquared[k] }], 12.5);
    });

    // ---- big panel titles ----
    const big = (lines: string[], x0: number, y0: number, size: number, gap: number) => {
      lines.forEach((s, i) =>
        svg
          .append("text")
          .attr("x", x0)
          .attr("y", y0 + i * gap)
          .attr("font-family", BIG)
          .attr("font-size", size)
          .attr("fill", "#000")
          .text(s)
      );
    };
    big(["Energy"], 260.4, 232.3, 36.5, 0);
    big(["emissions"], 511.6, 33, 42, 0);
    big(["Industrial", "Production", "Index"], 206.5, 444.3, 36.8, 43.2);
    big(["Degree Days"], 163.8, 616.7, 36.3, 0);
  }, []);

  return (
    <div style={{ position: "absolute", left: 0, top: 0 }}>
      <svg
        ref={svgRef}
        width={width}
        height={height}
        viewBox={`0 0 ${width} ${height}`}
        style={{ display: "block", background: "#fff" }}
      ></svg>
    </div>
  );
}

export default App;
